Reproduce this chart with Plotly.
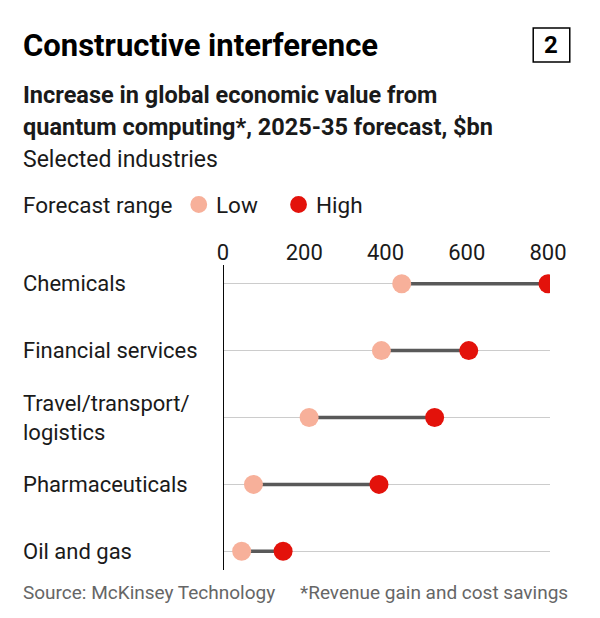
import plotly.graph_objects as go

industries = ["Chemicals", "Financial services", "Travel/transport/<br>logistics", "Pharmaceuticals", "Oil and gas"]
low = [440, 390, 212, 75, 46]
high = [800, 605, 521, 384, 148]
ticks = [0, 200, 400, 600, 800]

FONT = "Roboto"
W, H = 600, 618
rows = list(range(len(industries)))

fig = go.Figure()
# connectors
for i in rows:
    fig.add_trace(go.Scatter(x=[low[i], high[i]], y=[i, i], mode="lines",
                             line=dict(color="#595959", width=3.5), showlegend=False, hoverinfo="skip"))
fig.add_trace(go.Scatter(x=low, y=rows, mode="markers", name="Low",
                         marker=dict(color="#F7B09A", size=19), showlegend=False))
fig.add_trace(go.Scatter(x=high, y=rows, mode="markers", name="High",
                         marker=dict(color="#E3120B", size=19), showlegend=False))

# target pixel -> paper, compensating the page offset seen in the render
def px_x(p):
    return ((p - 14.5) / 0.975) / W

def px_y(p):
    return 1 - (p - 8) / H

ann = []
for i, name in enumerate(industries):
    ann.append(dict(x=px_x(22), y=i, xref="paper", yref="y", text=name, showarrow=False,
                    xanchor="left", yanchor="middle", align="left",
                    font=dict(family=FONT, size=22, color="#1a1a1a")))

texts = [
    (22, 45, "<b>Constructive interference</b>", 31, "#000000"),
    (22, 95, "<b>Increase in global economic value from</b>", 23.5, "#1a1a1a"),
    (22, 127, "<b>quantum computing*, 2025-35 forecast, $bn</b>", 23.5, "#1a1a1a"),
    (22, 160, "Selected industries", 23, "#1a1a1a"),
    (22, 205, "Forecast range", 22.5, "#1a1a1a"),
    (217, 205, "Low", 22.5, "#1a1a1a"),
    (318, 205, "High", 22.5, "#1a1a1a"),
    (22, 592, "Source: McKinsey Technology", 19, "#666666"),
]
for x, y, t, s, c in texts:
    ann.append(dict(x=px_x(x), y=px_y(y), xref="paper", yref="paper", text=t, showarrow=False,
                    xanchor="left", yanchor="middle", font=dict(family=FONT, size=s, color=c)))
ann.append(dict(x=px_x(577), y=px_y(592), xref="paper", yref="paper", text="*Revenue gain and cost savings",
                showarrow=False, xanchor="right", yanchor="middle", font=dict(family=FONT, size=19, color="#666666")))
ann.append(dict(x=px_x(558), y=px_y(45), xref="paper", yref="paper", text="<b>2</b>", showarrow=False,
                xanchor="center", yanchor="middle", font=dict(family=FONT, size=24, color="#000000")))

shapes = [
    dict(type="rect", xref="paper", yref="paper", x0=px_x(22), x1=px_x(90), y0=px_y(0), y1=px_y(8),
         fillcolor="#E3120B", line=dict(width=0)),
    dict(type="rect", xref="paper", yref="paper", x0=px_x(540), x1=px_x(577), y0=px_y(28), y1=px_y(62),
         line=dict(color="#000000", width=1.5)),
    dict(type="circle", xref="paper", yref="paper", x0=px_x(193), x1=px_x(210), y0=px_y(196), y1=px_y(213),
         fillcolor="#F7B09A", line=dict(width=0)),
    dict(type="circle", xref="paper", yref="paper", x0=px_x(294), x1=px_x(311), y0=px_y(196), y1=px_y(213),
         fillcolor="#E3120B", line=dict(width=0)),
    dict(type="line", xref="x", yref="paper", x0=0, x1=0, y0=px_y(570), y1=px_y(265),
         line=dict(color="#000000", width=2)),
]

fig.update_layout(
    width=W, height=H, margin=dict(l=0, r=0, t=0, b=0),
    paper_bgcolor="white", plot_bgcolor="white",
    annotations=ann, shapes=shapes,
    xaxis=dict(domain=[px_x(226), px_x(557)], range=[0, 805], side="top", tickvals=ticks,
               showgrid=False, zeroline=False, showline=False, ticks="",
               tickfont=dict(family=FONT, size=22, color="#1a1a1a")),
    yaxis=dict(domain=[px_y(570), px_y(265)], range=[4.28, -0.28], tickvals=rows, showticklabels=False,
               showgrid=True, gridcolor="#cccccc", gridwidth=1, zeroline=False, ticks=""),
)

fig.write_html("out.html")
